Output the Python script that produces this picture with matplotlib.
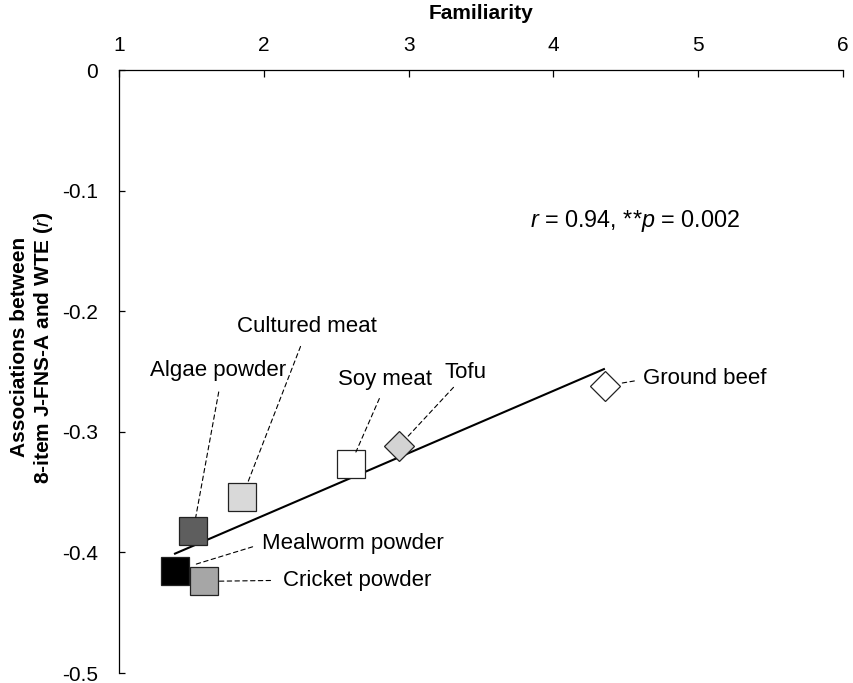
import numpy as np
import matplotlib
matplotlib.use("Agg")
import matplotlib.pyplot as plt

plt.rcParams['font.family'] = ['Liberation Sans', 'DejaVu Sans']
plt.rcParams['axes.unicode_minus'] = False
plt.rcParams['mathtext.fontset'] = 'custom'
plt.rcParams['mathtext.rm'] = 'Liberation Sans'
plt.rcParams['mathtext.it'] = 'Liberation Sans:italic'

# data
foods = ['Mealworm powder', 'Cricket powder', 'Algae powder', 'Cultured meat',
         'Soy meat', 'Tofu', 'Ground beef']
familiarity = [1.389, 1.585, 1.513, 1.851, 2.599, 2.932, 4.354]
association = [-0.415, -0.424, -0.382, -0.354, -0.327, -0.312, -0.262]
fill_colors = ['#000000', '#a6a6a6', '#5e5e5e', '#d9d9d9', '#ffffff', '#d3d3d3', '#ffffff']
markers = ['s', 's', 's', 's', 's', 'D', 'D']

fit_x = [1.387, 4.349]
fit_y = [-0.401, -0.248]

x_ticks = [1, 2, 3, 4, 5, 6]
y_ticks = [0, -0.1, -0.2, -0.3, -0.4, -0.5]
y_tick_labels = ['0', '-0.1', '-0.2', '-0.3', '-0.4', '-0.5']

stats_text = '$r$ = 0.94, **$p$ = 0.002'

# label layout: text anchor, ha, leader attach point on text, shrink at text / marker (pt)
label_pos = {
    'Algae powder':    (1.684, -0.2537, 'center', (0.52, 0.0), 6, 10),
    'Cultured meat':   (2.298, -0.2174, 'center', (0.48, 0.0), 5, 11),
    'Soy meat':        (2.837, -0.2612, 'center', (0.48, 0.0), 4.5, 9.7),
    'Tofu':            (3.396, -0.2554, 'center', (0.30, 0.0), 1.5, 10),
    'Ground beef':     (4.619, -0.2603, 'left', (0.0, 0.45), 4.3, 11),
    'Mealworm powder': (1.988, -0.3975, 'left', (0.0, 0.5), 5, 14),
    'Cricket powder':  (2.133, -0.4277, 'left', (0.0, 0.5), 7, 10),
}

fig = plt.figure(figsize=(8.54, 6.83), dpi=100)
ax = fig.add_axes([0.1393, 0.0146, 0.8478, 0.8829])

ax.plot(fit_x, fit_y, color='black', lw=1.5, zorder=2)

for name, x, y, c, m in zip(foods, familiarity, association, fill_colors, markers):
    ms = 19.5 if m == 's' else 15.3
    ax.plot([x], [y], marker=m, ms=ms, mfc=c, mec='#222222', mew=0.9,
            ls='none', zorder=3, clip_on=False)
    tx, ty, ha, rel, sa, sb = label_pos[name]
    ax.annotate(name, xy=(x, y), xytext=(tx, ty), ha=ha, va='baseline',
                fontsize=16, zorder=4,
                arrowprops=dict(arrowstyle='-', color='black', lw=0.8,
                                linestyle=(0, (4, 3)), shrinkA=sa, shrinkB=sb,
                                relpos=rel))

ax.text(3.838, -0.1298, stats_text, fontsize=16.8, ha='left', va='baseline')

ax.set_xlim(1, 6)
ax.set_ylim(-0.5, 0)
ax.xaxis.tick_top()
ax.set_xticks(x_ticks)
ax.set_xticklabels([str(t) for t in x_ticks])
ax.set_yticks(y_ticks)
ax.set_yticklabels(y_tick_labels)
ax.tick_params(axis='x', direction='in', length=5, width=0.9, pad=11, labelsize=15,
               top=True, bottom=False)
ax.tick_params(axis='y', direction='in', length=4, width=0.9, pad=15, labelsize=15)

for side in ['right', 'bottom']:
    ax.spines[side].set_visible(False)
for side in ['left', 'top']:
    ax.spines[side].set_linewidth(0.9)

ax.xaxis.set_label_position('top')
ax.set_xlabel('Familiarity', fontsize=15, fontweight='bold')
ax.xaxis.set_label_coords(0.5, 1.085)
ax.set_ylabel('Associations between\n8-item J-FNS-A and WTE ($r$)',
              fontsize=15, fontweight='bold')
ax.yaxis.set_label_coords(-0.088, 0.54)

fig.savefig('out.png', dpi=100)
